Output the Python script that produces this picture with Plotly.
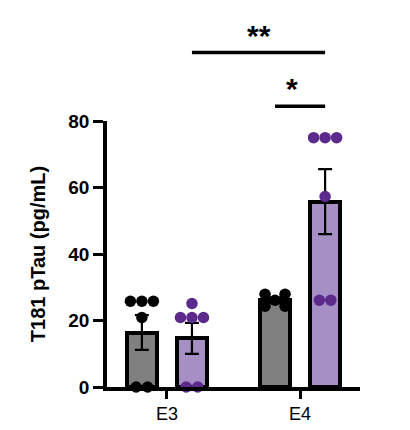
import numpy as np
import plotly.graph_objects as go

# genotype groups on the x axis and the two bars inside each group
genotypes = ["E3", "E4"]
e3_grey = [25.8, 25.8, 25.8, 20.9, 0.0, 0.0]
e3_purple = [25.1, 20.9, 20.9, 20.9, 0.0, 0.0]
e4_grey = [26.1, 27.9, 27.9, 24.3, 24.3]
e4_purple = [57.3, 75.0, 75.0, 75.0, 26.1, 26.1]
y_ticks = [0, 20, 40, 60, 80]
y_title = "T181 pTau (pg/mL)"

grey_groups = [e3_grey, e4_grey]
purple_groups = [e3_purple, e4_purple]

# figure geometry
W, H = 410, 430
M = dict(l=107, r=50, t=121, b=43)
X_RANGE = [-0.45, 1.45]
Y_MAX = 80
PX_X = (W - M["l"] - M["r"]) / (X_RANGE[1] - X_RANGE[0])
PX_Y = (H - M["t"] - M["b"]) / Y_MAX

OFFSET = 0.188   # half distance between the two bars of a group
BAR_W = 0.225
DOT = 11.5       # dot diameter in px

GREY = "#808080"
LAVENDER = "#a58fc4"
DOT_PURPLE = "#5b2a8c"
FONT = "Arial, Liberation Sans, sans-serif"


def swarm(vals):
    # rows of equal values, centred; spread wider until they don't hit earlier rows
    out = np.zeros(len(vals))
    rows = {}
    for i, v in enumerate(vals):
        rows.setdefault(v, []).append(i)
    placed = []
    for v, idx in sorted(rows.items(), key=lambda kv: len(kv[1])):
        n = len(idx)
        yp = v * PX_Y
        s = DOT
        while s < 80:
            xs = [(k - (n - 1) / 2) * s for k in range(n)]
            if n == 1 or all(np.hypot(x - px, yp - py) >= DOT - 0.01
                             for x in xs for px, py in placed):
                break
            s += 0.5
        for k, i in enumerate(idx):
            out[i] = xs[k]
        placed += [(x, yp) for x in xs]
    return out / PX_X


def mean_sem(vals):
    a = np.array(vals)
    return a.mean(), a.std(ddof=1) / np.sqrt(len(a))


fig = go.Figure()
pos = np.arange(len(genotypes))

for groups, sign, fill, dot_col in [(grey_groups, -1, GREY, "black"),
                                    (purple_groups, 1, LAVENDER, DOT_PURPLE)]:
    stats = [mean_sem(g) for g in groups]
    centers = pos + sign * OFFSET
    fig.add_trace(go.Bar(
        x=centers, y=[s[0] for s in stats], width=BAR_W,
        marker=dict(color=fill, line=dict(color="black", width=4)),
        error_y=dict(type="data", array=[s[1] for s in stats], visible=True,
                     color="black", thickness=2.2, width=7),
        showlegend=False,
    ))
    for c, g in zip(centers, groups):
        fig.add_trace(go.Scatter(
            x=c + swarm(g), y=g, mode="markers", cliponaxis=False,
            marker=dict(size=DOT, color=dot_col, line=dict(width=0)),
            showlegend=False,
        ))


def xp(x):
    return (x - X_RANGE[0]) / (X_RANGE[1] - X_RANGE[0])


# significance brackets: (from bar centre, to bar centre, height, label)
brackets = [(pos[0] + OFFSET, pos[1] + OFFSET, 100.6, "**"),
            (pos[1] - OFFSET, pos[1] + OFFSET, 84.4, "*")]
for x0, x1, h, lab in brackets:
    fig.add_shape(type="line", xref="paper", yref="paper",
                  x0=xp(x0), x1=xp(x1), y0=h / Y_MAX, y1=h / Y_MAX,
                  line=dict(color="black", width=3.5))
    fig.add_annotation(xref="paper", yref="paper", x=xp((x0 + x1) / 2),
                       y=h / Y_MAX, yanchor="bottom", showarrow=False,
                       text=lab, yshift=-1,
                       font=dict(family=FONT, size=30, color="black", weight="bold"))

fig.update_layout(
    width=W, height=H, margin=M,
    plot_bgcolor="white", paper_bgcolor="white",
    barmode="overlay", bargap=0,
    font=dict(family=FONT, color="black"),
)
fig.update_xaxes(
    range=X_RANGE, tickvals=list(pos), ticktext=genotypes, automargin=False,
    showline=True, linecolor="black", linewidth=3.5,
    ticks="outside", ticklen=8, tickwidth=3, tickcolor="black",
    showgrid=False, zeroline=False,
    tickfont=dict(family=FONT, size=18, color="black"),
)
fig.update_yaxes(
    range=[0, Y_MAX], tickvals=y_ticks, automargin=False,
    showline=True, linecolor="black", linewidth=3.5,
    ticks="outside", ticklen=10, tickwidth=3, tickcolor="black",
    showgrid=False, zeroline=False,
    tickfont=dict(family=FONT, size=19, color="black", weight="bold"),
    title=dict(text=y_title, standoff=18,
               font=dict(family=FONT, size=20, color="black", weight="bold")),
)

# drop the page's default body margin so the figure fills the window
fig.write_html("out.html", config={"displayModeBar": False},
               post_script="document.body.style.margin = '0';")
